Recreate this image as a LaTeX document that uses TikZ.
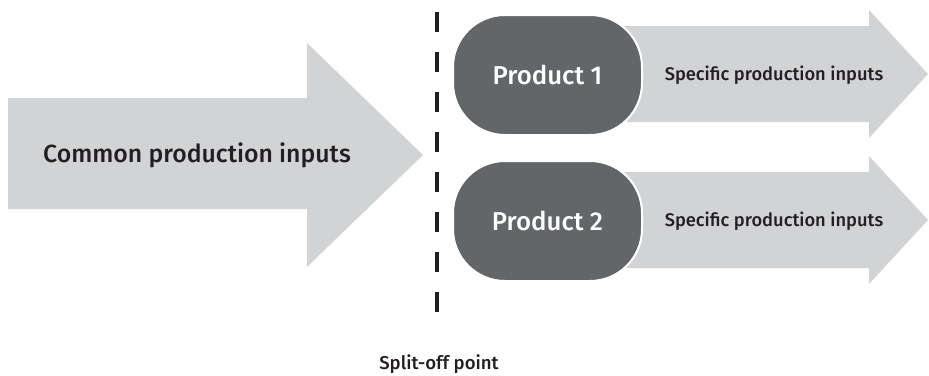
\documentclass[tikz,border=0pt]{standalone}
\usepackage{fontspec}
\setmainfont{Fira Sans Medium}
\definecolor{arrowgray}{HTML}{D2D3D4}
\definecolor{productgray}{HTML}{636669}
\definecolor{inktext}{HTML}{231F20}
\tikzset{
  inputarrow/.style={fill=arrowgray, draw=none},
  productbox/.style={fill=productgray, draw=white, line width=2pt,
    rounded corners=52pt},
  productlabel/.style={text=white, font=\fontsize{25.8}{30}\selectfont},
  biglabel/.style={text=inktext, font=\fontsize{24.8}{29}\selectfont},
  smalllabel/.style={text=inktext, font=\fontsize{18.3}{22}\selectfont},
  splitlabel/.style={text=inktext, font=\fontsize{18.6}{22}\selectfont},
  splitline/.style={draw=inktext, line width=3.8pt, dash pattern=on 20pt off 20pt},
}
\begin{document}
\begin{tikzpicture}[x=1pt, y=-1pt]
  \useasboundingbox (0,0) rectangle (929,375);

  % common inputs arrow
  \fill[inputarrow] (8,98) -- (307,98) -- (307,43) -- (423,155)
    -- (307,267) -- (307,209) -- (8,209) -- cycle;
  \node[biglabel] (common) at (197,155) {Common production inputs};

  % split-off line
  \coordinate (splittop) at (437,12);
  \coordinate (splitbot) at (437,312);
  \draw[splitline] (splittop) -- (splitbot);
  \node[splitlabel] (split) at (439,364) {Split-off point};

  % specific inputs arrows
  \fill[inputarrow] (600,26) -- (869,26) -- (869,10) -- (928,74)
    -- (869,138) -- (869,122) -- (600,122) -- cycle;
  \fill[inputarrow] (600,172) -- (869,172) -- (869,156) -- (928,220)
    -- (869,284) -- (869,268) -- (600,268) -- cycle;
  \node[smalllabel] (spec1) at (774,75) {Specific production inputs};
  \node[smalllabel] (spec2) at (774,221) {Specific production inputs};

  % products
  \path[productbox] (453,15) rectangle (642,135);
  \path[productbox] (453,161) rectangle (642,281);
  \node[productlabel] (prod1) at (547.5,75) {Product 1};
  \node[productlabel] (prod2) at (547.5,221) {Product 2};
\end{tikzpicture}
\end{document}
